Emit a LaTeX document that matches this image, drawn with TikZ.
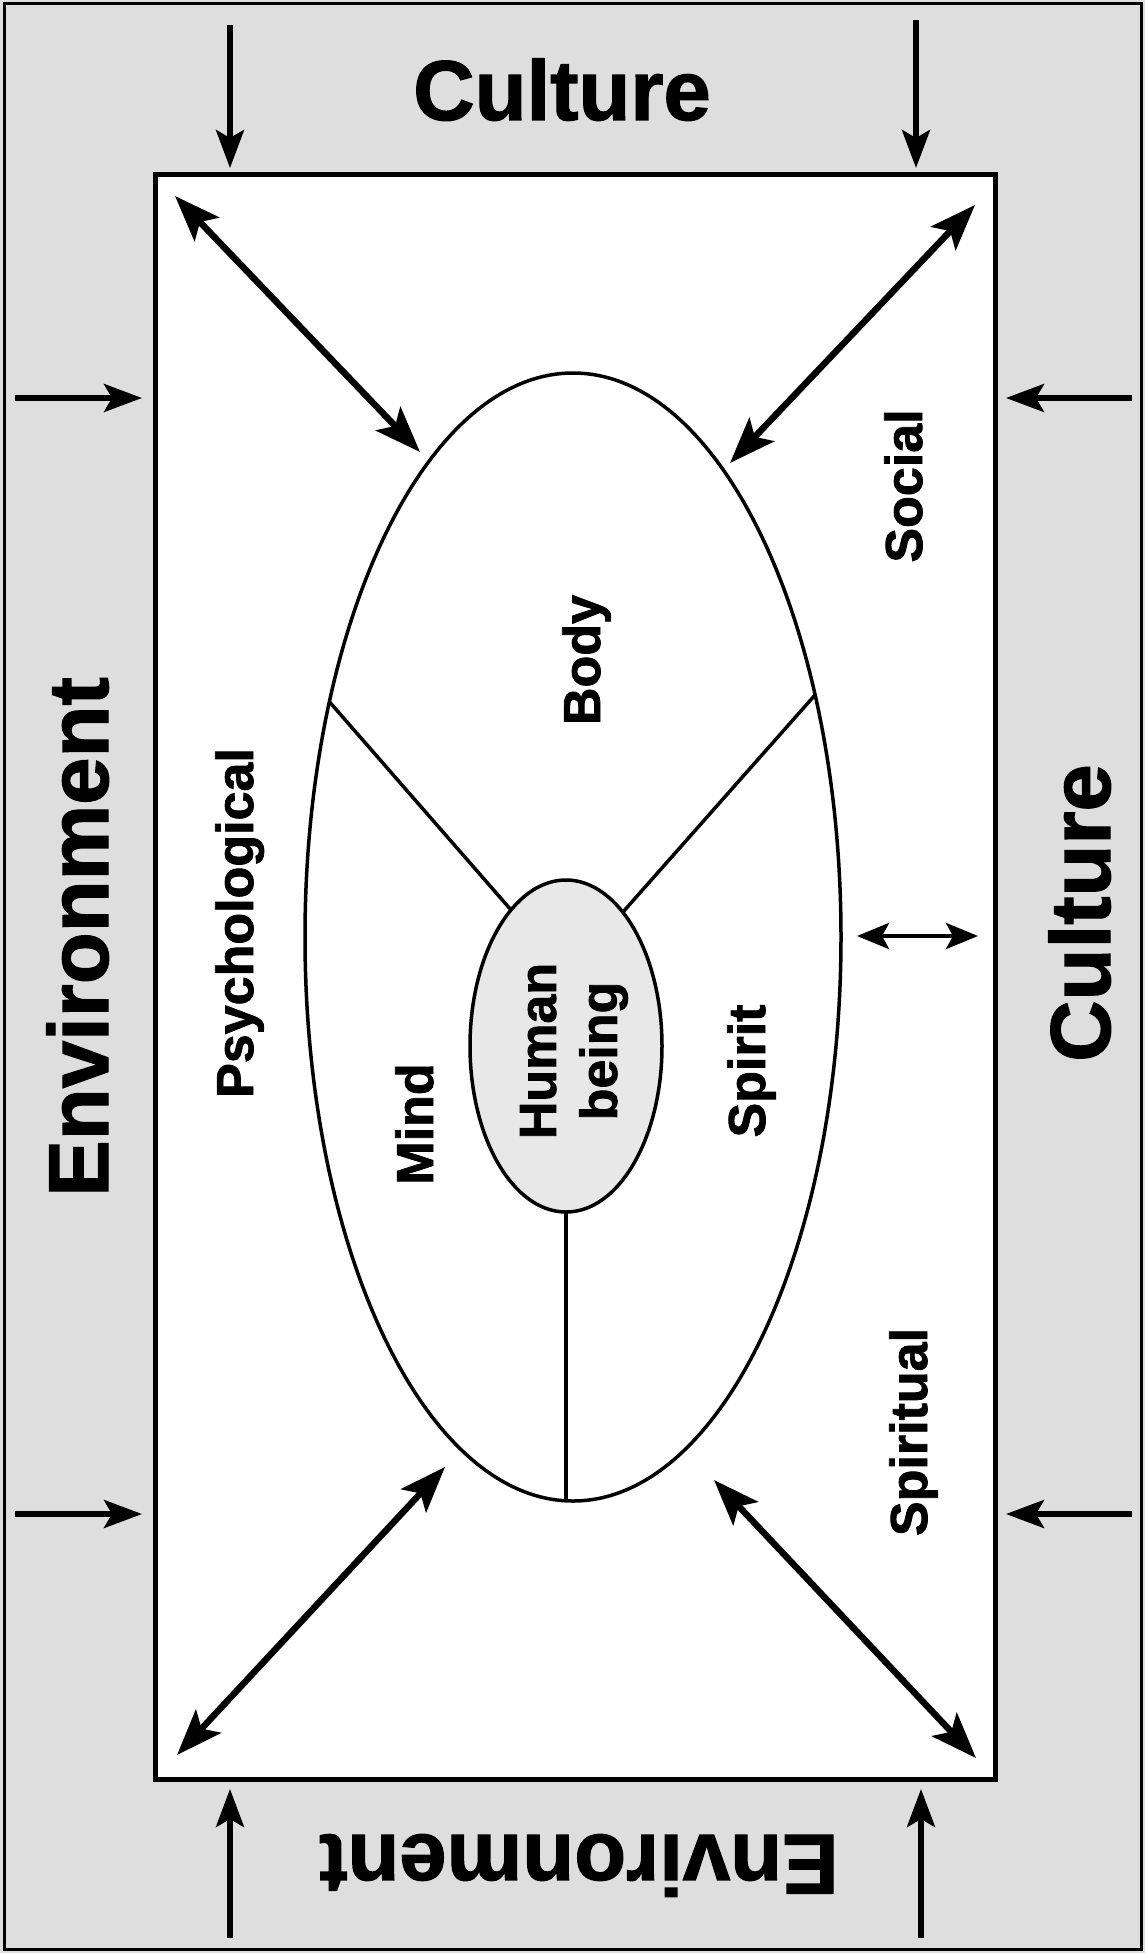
\documentclass[tikz,border=0pt]{standalone}
\usepackage{fontspec}
\setmainfont{Liberation Sans}
\newfontfamily\heavyfont[FakeBold=1.5]{Liberation Sans Bold}
\usetikzlibrary{arrows.meta,shapes.geometric}

\begin{document}
\begin{tikzpicture}[x=1pt,y=-1pt,
  bigtxt/.style={font=\fontsize{85}{90}\heavyfont, inner sep=0pt, anchor=base},
  lbl/.style={font=\fontsize{52}{61}\heavyfont, inner sep=0pt, anchor=base, rotate=90},
  inarrow/.style={line width=5.5pt, -{Stealth[length=38pt,width=28pt,inset=8pt]}},
  twoway/.style={line width=6.5pt, {Stealth[length=46pt,width=34pt,inset=10pt]}-{Stealth[length=46pt,width=34pt,inset=10pt]}},
  smallway/.style={line width=4.5pt, {Stealth[length=32pt,width=26pt,inset=7pt]}-{Stealth[length=32pt,width=26pt,inset=7pt]}},
  divider/.style={line width=3.5pt}
]
% page, background and frame
\useasboundingbox (0,0) rectangle (1145,1953);
\fill[black!13] (0,0) rectangle (1145,1953);
\draw[line width=3pt] (4,4) rectangle (1141,1949);

% the field of the person
\node[draw, fill=white, line width=5pt, minimum width=840pt, minimum height=1604pt, inner sep=0pt, outer sep=0pt] (field) at (575,977) {};

% person: body, mind and spirit, with the human being at the core
\node[draw, ellipse, line width=3.5pt, minimum width=536pt, minimum height=1128pt, inner sep=0pt, outer sep=0pt] (outer) at (573,937) {};
\node[draw, ellipse, fill=black!9, line width=3.5pt, minimum width=192pt, minimum height=332pt, inner sep=0pt, outer sep=0pt] (inner) at (566,1046) {};
\draw[divider] (outer.136.9) -- (inner.112.7);
\draw[divider] (outer.45.6) -- (inner.67.9);
\draw[divider] (inner.south) -- (inner.south |- outer.south);

% labels round the field
\node[bigtxt] (cultTop) at (562,120) {Culture};
\node[bigtxt, rotate=90] (envLeft) at (108,937) {Environment};
\node[bigtxt, rotate=90] (cultRight) at (1110,913) {Culture};
\node[bigtxt, rotate=180] (envBottom) at (579,1835) {Environment};

% labels inside the field
\node[lbl] (psych) at (253,923) {Psychological};
\node[lbl] (body) at (600,660) {Body};
\node[lbl] (social) at (922,486) {Social};
\node[lbl] (mind) at (433,1124) {Mind};
\node[lbl] (spirit) at (765,1071) {Spirit};
\node[lbl] (spiritual) at (927,1432) {Spiritual};
\node[font=\fontsize{52}{61}\heavyfont, inner sep=0pt, rotate=90, align=center] (human) at (574,1051) {Human\\being};

% influences pressing on the field
\coordinate (t1) at (230,25);
\coordinate (t2) at (916,20);
\coordinate (b1) at (230,1938);
\coordinate (b2) at (921,1938);
\coordinate (l1) at (15,398);
\coordinate (l2) at (15,1514);
\coordinate (r1) at (1132,398);
\coordinate (r2) at (1132,1514);
\draw[inarrow, shorten >=7pt] (t1) -- (t1 |- field.north);
\draw[inarrow, shorten >=7pt] (t2) -- (t2 |- field.north);
\draw[inarrow, shorten >=10pt] (b1) -- (b1 |- field.south);
\draw[inarrow, shorten >=10pt] (b2) -- (b2 |- field.south);
\draw[inarrow, shorten >=13pt] (l1) -- (l1 -| field.west);
\draw[inarrow, shorten >=13pt] (l2) -- (l2 -| field.west);
\draw[inarrow, shorten >=11pt] (r1) -- (r1 -| field.east);
\draw[inarrow, shorten >=11pt] (r2) -- (r2 -| field.east);

% two-way exchanges between the person and the field
\coordinate (tlA) at (175,196);
\coordinate (tlB) at (420,452);
\coordinate (trA) at (975,205);
\coordinate (trB) at (730,463);
\coordinate (blA) at (445,1467);
\coordinate (blB) at (177,1755);
\coordinate (brA) at (714,1480);
\coordinate (brB) at (976,1758);
\coordinate (mA) at (857,936);
\coordinate (mB) at (978,936);
\draw[twoway] (tlA) -- (tlB);
\draw[twoway] (trA) -- (trB);
\draw[twoway] (blA) -- (blB);
\draw[twoway] (brA) -- (brB);
\draw[smallway] (mA) -- (mB);
\end{tikzpicture}
\end{document}
